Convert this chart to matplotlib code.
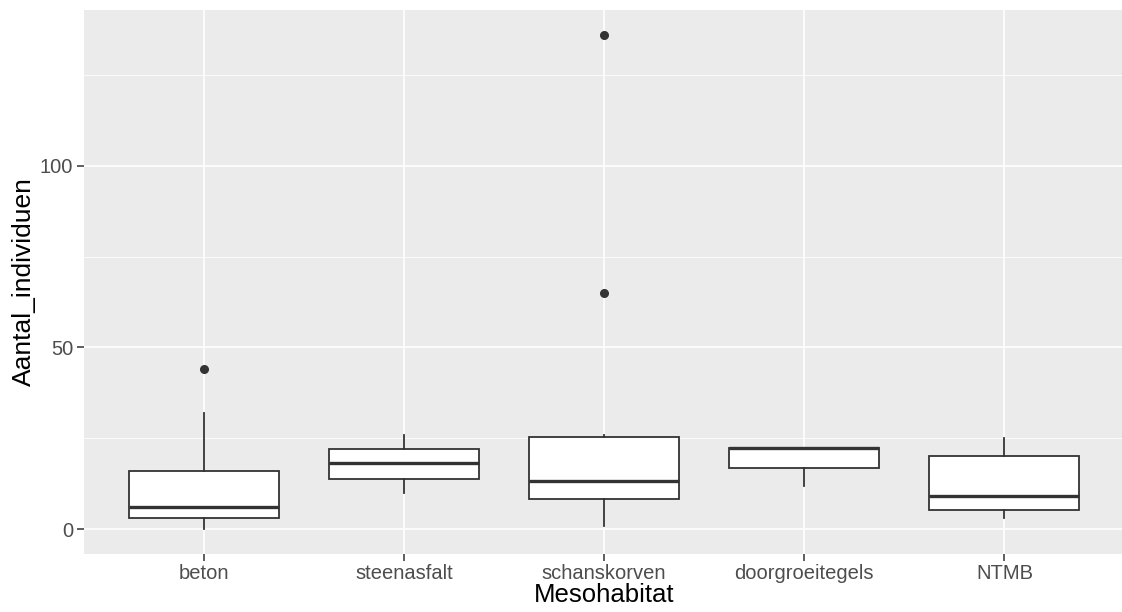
import numpy as np
import matplotlib
matplotlib.use("Agg")
import matplotlib.pyplot as plt

# Boxplot statistieken per mesohabitat
categories = ["beton", "steenasfalt", "schanskorven", "doorgroeitegels", "NTMB"]
whisker_low = [0, 10, 1, 12, 3]
q1 = [3, 13.7, 8.3, 16.9, 5.4]
median = [6, 18.2, 13.2, 22.3, 9.2]
q3 = [16, 22.2, 25.4, 22.3, 20.2]
whisker_high = [32, 26, 26, 22.3, 25]
outliers = [[44], [], [65, 136], [], []]

y_ticks = [0, 50, 100]
y_minor = [25, 75, 125]

plt.rcParams["font.family"] = ["Liberation Sans", "DejaVu Sans"]

W, H = 1122, 612
fig = plt.figure(figsize=(W / 100, H / 100), dpi=100)
left_px, right_px, top_px, bottom_px = 83.5, 1122, 10, 554
ax = fig.add_axes([left_px / W, 1 - bottom_px / H,
                   (right_px - left_px) / W, (bottom_px - top_px) / H])

stats = []
for i, cat in enumerate(categories):
    stats.append({
        "label": cat, "whislo": whisker_low[i], "q1": q1[i], "med": median[i],
        "q3": q3[i], "whishi": whisker_high[i], "fliers": outliers[i],
    })

dark = "#333333"
pos = np.arange(1, len(categories) + 1)
ax.bxp(stats, positions=pos, widths=0.75, patch_artist=True, showcaps=False,
       boxprops=dict(facecolor="white", edgecolor=dark, linewidth=1.3),
       medianprops=dict(color=dark, linewidth=2.4, solid_capstyle="butt"),
       whiskerprops=dict(color=dark, linewidth=1.3),
       flierprops=dict(marker="o", markerfacecolor=dark, markeredgecolor=dark,
                       markersize=5.5),
       zorder=3)

# ggplot-achtige layout
ax.set_facecolor("#EBEBEB")
for s in ax.spines.values():
    s.set_visible(False)
px_per_unit = 200.2
ax.set_xlim(0.4, 0.4 + (right_px - left_px) / px_per_unit)
ax.set_ylim(-6.8, 142.8)
ax.set_xticks(pos)
ax.set_xticklabels(categories)
ax.set_yticks(y_ticks)
ax.set_yticks(y_minor, minor=True)
ax.grid(True, which="major", color="white", linewidth=1.2, zorder=0)
ax.grid(True, which="minor", axis="y", color="white", linewidth=0.6, zorder=0)
ax.set_axisbelow(True)
ax.tick_params(axis="both", which="major", length=5, width=1.1, color=dark,
               labelsize=14.5, labelcolor="#4D4D4D", pad=2.5)
ax.tick_params(axis="y", which="minor", length=0)

ax.set_xlabel("Mesohabitat", fontsize=18.5, color="black")
ax.set_ylabel("Aantal_individuen", fontsize=19, color="black")
ax.xaxis.set_label_coords(0.501, -0.054)
ax.yaxis.set_label_coords(-0.046, 0.5)

fig.savefig("out.png", dpi=100)
